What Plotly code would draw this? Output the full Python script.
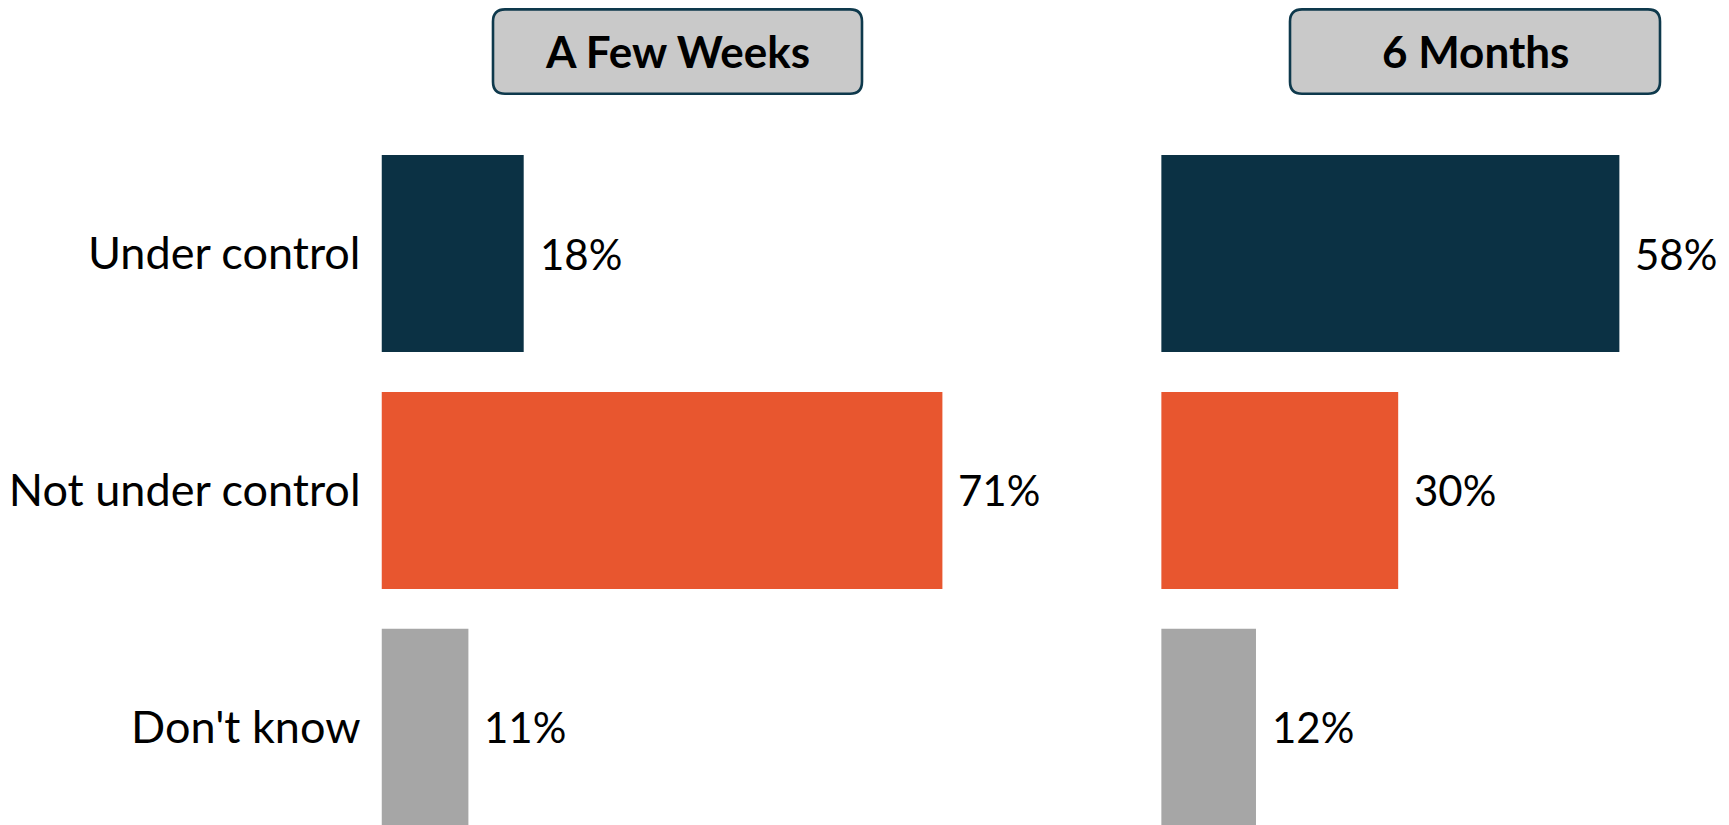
import plotly.graph_objects as go
from plotly.subplots import make_subplots

# ---- data ----
categories = ["Under control", "Not under control", "Don't know"]
panel_titles = ["A Few Weeks", "6 Months"]
few_weeks = [18, 71, 11]
six_months = [58, 30, 12]
bar_colors = ["#0B3144", "#E8562F", "#A6A6A6"]

W, H = 1729, 825
FONT = "Lato"
TICK_SIZE = 45
VALUE_SIZE = 42
TITLE_SIZE = 44

fig = make_subplots(rows=1, cols=2, shared_yaxes=False, horizontal_spacing=0.0)

series = [few_weeks, six_months]
for i, vals in enumerate(series):
    col = i + 1
    fig.add_trace(
        go.Bar(
            x=vals,
            y=categories,
            orientation="h",
            marker=dict(color=bar_colors, line=dict(width=0)),
            showlegend=False,
            hoverinfo="skip",
        ),
        row=1,
        col=col,
    )
    xref = "x" if col == 1 else "x2"
    yref = "y" if col == 1 else "y2"
    for c, v in zip(categories, vals):
        fig.add_annotation(
            x=v, y=c, xref=xref, yref=yref,
            text=f"{v}%", showarrow=False,
            xanchor="left", yanchor="middle", xshift=14,
            font=dict(family=FONT, size=VALUE_SIZE, color="#000000"),
        )

# axes (figure pixel coordinates; page has 8px body offset)
left_dom = [373.5 / W, 1084.5 / W]
right_dom = [1153.2 / W, 1.0]
y_top = (H - 127.2) / H
yrange = [2.4468, -0.5]

fig.update_xaxes(showticklabels=False, showgrid=False, zeroline=False, showline=False)
fig.update_layout(
    xaxis=dict(domain=left_dom, range=[0, 90]),
    xaxis2=dict(domain=right_dom, range=[0, 72.89]),
    yaxis=dict(
        domain=[0, y_top], range=yrange, type="category",
        categoryorder="array", categoryarray=categories,
        showgrid=False, zeroline=False, showline=False, ticks="",
        ticklabelstandoff=20,
        tickfont=dict(family=FONT, size=TICK_SIZE, color="#000000"),
    ),
    yaxis2=dict(
        domain=[0, y_top], range=yrange, type="category",
        categoryorder="array", categoryarray=categories,
        showgrid=False, zeroline=False, showline=False, ticks="",
        showticklabels=False,
    ),
    bargap=0.168,
)

# header boxes (rounded)
def rounded_path(x0, x1, y0, y1, r_px):
    rx = r_px / W
    ry = r_px / H
    X0, X1 = x0 / W, x1 / W
    Ytop, Ybot = 1 - y0 / H, 1 - y1 / H
    return (
        f"M {X0+rx},{Ytop} L {X1-rx},{Ytop} Q {X1},{Ytop} {X1},{Ytop-ry} "
        f"L {X1},{Ybot+ry} Q {X1},{Ybot} {X1-rx},{Ybot} "
        f"L {X0+rx},{Ybot} Q {X0},{Ybot} {X0},{Ybot+ry} "
        f"L {X0},{Ytop-ry} Q {X0},{Ytop} {X0+rx},{Ytop} Z"
    )

boxes = [(485, 854), (1282, 1652)]
for (bx0, bx1), title in zip(boxes, panel_titles):
    fig.add_shape(
        type="path", xref="paper", yref="paper",
        path=rounded_path(bx0, bx1, 1.4, 85.7, 12),
        fillcolor="#C9C9C9", line=dict(color="#0E394C", width=2.6),
        layer="above",
    )
    fig.add_annotation(
        x=(bx0 + bx1) / 2 / W, y=1 - 43.0 / H, xref="paper", yref="paper",
        text=f"<b>{title}</b>", showarrow=False,
        xanchor="center", yanchor="middle",
        font=dict(family=FONT, size=TITLE_SIZE, color="#000000"),
    )

fig.update_layout(
    width=W, height=H,
    margin=dict(l=0, r=0, t=0, b=0),
    paper_bgcolor="white", plot_bgcolor="white",
    font=dict(family=FONT),
)

fig.write_html("out.html")
